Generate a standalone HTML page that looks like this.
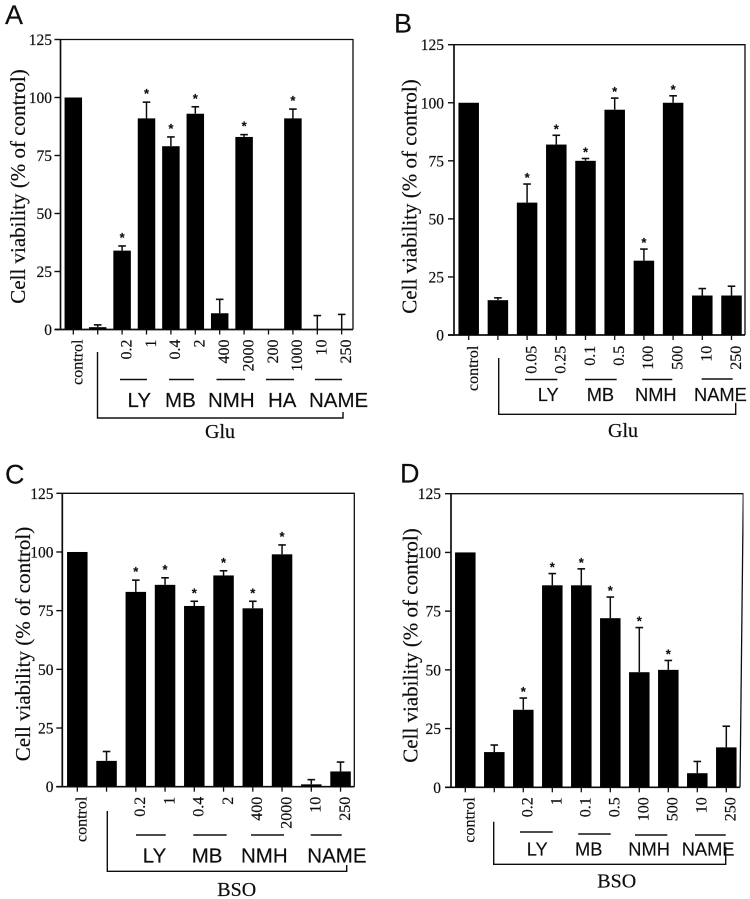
<!DOCTYPE html>
<html>
<head>
<meta charset="utf-8">
<title>Cell viability panels</title>
<style>
html,body{margin:0;padding:0;background:#fff;}
svg{display:block;}
.serif{font-family:"Liberation Serif",serif;fill:#111;stroke:#111;stroke-width:.2px;}
.sans{font-family:"Liberation Sans",sans-serif;fill:#111;stroke:#111;stroke-width:.15px;}
</style>
</head>
<body>
<svg id="fig" xmlns="http://www.w3.org/2000/svg" width="750" height="899" viewBox="0 0 750 899">
<defs><filter id="scan" x="0" y="0" width="100%" height="100%"><feGaussianBlur stdDeviation="0.3"/></filter></defs>
<rect x="0" y="0" width="750" height="899" fill="#fff"/>
</svg>
<script>
// ---- chart data ----
const yTicks = [0, 25, 50, 75, 100, 125];
const yTitle = 'Cell viability (% of control)';

const categoriesA = ['control', '', '0.2', '1', '0.4', '2', '400', '2000', '200', '1000', '10', '250'];
const valuesA = [100, 1, 34, 91, 79, 93, 7, 83, 0, 91, 0, 0];
const errorTopsA = [null, 2, 36, 98, 83, 96, 13, 84, null, 95, 6, 6.5];
const significantA = [0, 0, 1, 1, 1, 1, 0, 1, 0, 1, 0, 0];

const categoriesB = ['control', '', '0.05', '0.25', '0.1', '0.5', '100', '500', '10', '250'];
const valuesB = [100, 15, 57, 82, 75, 97, 32, 100, 17, 17];
const errorTopsB = [null, 16, 65, 86, 76, 102, 37, 103, 20, 21];
const significantB = [0, 0, 1, 1, 1, 1, 1, 1, 0, 0];

const categoriesC = ['control', '', '0.2', '1', '0.4', '2', '400', '2000', '10', '250'];
const valuesC = [100, 11, 83, 86, 77, 90, 76, 99, 1, 6.5];
const errorTopsC = [null, 15, 88, 89, 79, 92, 79, 103, 3, 10.5];
const significantC = [0, 0, 1, 1, 1, 1, 1, 1, 0, 0];

const categoriesD = ['control', '', '0.2', '1', '0.1', '0.5', '100', '500', '10', '250'];
const valuesD = [100, 15, 33, 86, 86, 72, 49, 50, 6, 17];
const errorTopsD = [null, 18, 38, 91, 93, 81, 68, 54, 11, 26];
const significantD = [0, 0, 1, 1, 1, 1, 1, 1, 0, 0];

// ---- drawing ----
const SVG_NS = 'http://www.w3.org/2000/svg';
const fig = document.getElementById('fig');

function mk(tag, attrs, parent) {
  const el = document.createElementNS(SVG_NS, tag);
  for (const k in attrs) el.setAttribute(k, attrs[k]);
  (parent || fig).appendChild(el);
  return el;
}

function drawLine(g, x1, y1, x2, y2, w) {
  return mk('line', {x1, y1, x2, y2, stroke: '#111', 'stroke-width': w}, g);
}

function drawText(g, cls, size, x, y, str, anchor) {
  const t = mk('text', {class: cls, 'font-size': size, x, y, 'text-anchor': anchor || 'start'}, g);
  t.textContent = str;
  return t;
}

function drawPanel(p) {
  const g = mk('g', {filter: 'url(#scan)'});
  
  

  const yScale = v => p.bottom - (v / 125) * (p.bottom - p.top);
  const xScale = i => p.x0 + i * p.step;

  const letter = drawText(g, 'sans', 27, p.letterX, p.letterY, p.id);
  
  

  const frame = mk('path', {
    d: 'M' + p.left + ' ' + p.top + ' H' + p.right + ' L' + p.rightBottom + ' ' + p.bottom,
    fill: 'none', stroke: '#111', 'stroke-width': 1.3
  }, g);
  
  

  const yAxis = drawLine(g, p.left, p.top, p.left, p.bottom, 1.7);
  
  

  const xAxis = drawLine(g, p.left - 6, p.bottom, p.rightBottom, p.bottom, 1.7);
  
  

  yTicks.forEach(v => {
    const y = yScale(v);
    const tick = drawLine(g, p.left - 6, y, p.left, y, 1.4);
    
    
    const lab = drawText(g, 'serif', 15.5, p.tickEnd, y + 5.5, String(v), 'end');
    
    
  });

  const title = drawText(g, 'serif', 21, 0, 0, yTitle, 'middle');
  title.setAttribute('transform', 'translate(' + p.titleX + ' ' + p.titleY + ') rotate(-90)');
  
  

  p.values.forEach((v, i) => {
    const cx = xScale(i);
    const bar = mk('rect', {
      x: cx - p.barW / 2, y: yScale(v), width: p.barW,
      height: p.bottom - yScale(v), fill: '#060606'
    }, g);
    
    

    const xTick = drawLine(g, cx, p.bottom, cx, p.bottom + 5, 1.3);
    
    

    const top = p.errorTops[i];
    if (top !== null) {
      const stem = drawLine(g, cx, yScale(v), cx, yScale(top), 1.5);
      
      
      const cap = drawLine(g, cx - 3.8, yScale(top), cx + 3.8, yScale(top), 1.6);
      
      
    }

    if (p.significant[i]) {
      const star = drawText(g, 'sans', 13, cx, yScale(top) - p.starGap, '*', 'middle');
      star.setAttribute('font-weight', 'bold');
      
      
    }

    if (p.categories[i]) {
      const lab = drawText(g, 'serif', 16, 0, 0, p.categories[i], 'end');
      lab.setAttribute('transform', 'translate(' + (cx + 9.3) + ' ' + p.labelTop + ') rotate(-90)');
      
      
    }
  });

  p.groups.forEach(gr => {
    const rule = drawLine(g, gr.x1, gr.ruleY, gr.x2, gr.ruleY, 1.4);
    
    
    const lab = drawText(g, 'sans', p.groupSize, gr.tx, p.groupBase, gr.name);
    
    
  });

  const b = p.bracket;
  const br = mk('path', {
    d: 'M' + b.x1 + ' ' + b.y1 + ' V' + b.y2 + ' H' + b.x2 + ' V' + b.y3,
    fill: 'none', stroke: '#111', 'stroke-width': 1.4
  }, g);
  
  

  const tl = drawText(g, 'serif', 20, p.treatX, p.treatY, p.treatment, 'middle');
  
  
}

drawPanel({
  id: 'A', categories: categoriesA, values: valuesA, errorTops: errorTopsA, significant: significantA,
  left: 60.5, right: 353, rightBottom: 353, top: 39.5, bottom: 329.5,
  x0: 73.3, step: 24.4, barW: 17.5, labelTop: 339.5, tickEnd: 52, starGap: 4,
  titleX: 25, titleY: 186.5, letterX: 5, letterY: 24,
  groupBase: 407, groupSize: 20.5,
  groups: [
    {name: 'LY', x1: 120, x2: 147, ruleY: 379.5, tx: 127.5},
    {name: 'MB', x1: 169, x2: 194, ruleY: 379.5, tx: 165},
    {name: 'NMH', x1: 216.5, x2: 245, ruleY: 379.5, tx: 208},
    {name: 'HA', x1: 266, x2: 294, ruleY: 379.5, tx: 268},
    {name: 'NAME', x1: 315, x2: 342, ruleY: 379.5, tx: 309}
  ],
  bracket: {x1: 97.5, y1: 352, y2: 418, x2: 343, y3: 412},
  treatment: 'Glu', treatX: 220, treatY: 438
});

drawPanel({
  id: 'B', categories: categoriesB, values: valuesB, errorTops: errorTopsB, significant: significantB,
  left: 454, right: 745, rightBottom: 745, top: 44.7, bottom: 335,
  x0: 468.7, step: 29.2, barW: 20.5, labelTop: 345.7, tickEnd: 444, starGap: 2,
  titleX: 416.7, titleY: 196.5, letterX: 394, letterY: 32.7,
  groupBase: 401, groupSize: 18.3,
  groups: [
    {name: 'LY', x1: 525, x2: 557.3, ruleY: 379.5, tx: 537.7},
    {name: 'MB', x1: 585, x2: 616.7, ruleY: 379.5, tx: 586.7},
    {name: 'NMH', x1: 642.3, x2: 672.3, ruleY: 379.5, tx: 635},
    {name: 'NAME', x1: 701.7, x2: 732.7, ruleY: 379, tx: 694}
  ],
  bracket: {x1: 498.7, y1: 358, y2: 414.3, x2: 735.7, y3: 402.7},
  treatment: 'Glu', treatX: 623, treatY: 437
});

drawPanel({
  id: 'C', categories: categoriesC, values: valuesC, errorTops: errorTopsC, significant: significantC,
  left: 62.3, right: 354.3, rightBottom: 354.3, top: 493.3, bottom: 786.7,
  x0: 77.3, step: 29.25, barW: 20.5, labelTop: 796.7, tickEnd: 53.5, starGap: 4,
  titleX: 30, titleY: 644, letterX: 5, letterY: 483.3,
  groupBase: 862.7, groupSize: 20.5,
  groups: [
    {name: 'LY', x1: 136, x2: 165.7, ruleY: 835, tx: 142.7},
    {name: 'MB', x1: 193.3, x2: 226.7, ruleY: 835, tx: 191.7},
    {name: 'NMH', x1: 251, x2: 284, ruleY: 835, tx: 241},
    {name: 'NAME', x1: 310.7, x2: 341.7, ruleY: 835, tx: 307.3}
  ],
  bracket: {x1: 107.3, y1: 811, y2: 871.3, x2: 346.7, y3: 865},
  treatment: 'BSO', treatX: 236.7, treatY: 896
});

drawPanel({
  id: 'D', categories: categoriesD, values: valuesD, errorTops: errorTopsD, significant: significantD,
  left: 451, right: 743.3, rightBottom: 740, top: 493.7, bottom: 787.3,
  x0: 465.3, step: 29, barW: 20.5, labelTop: 797.3, tickEnd: 441, starGap: 2,
  titleX: 417.7, titleY: 645.5, letterX: 400, letterY: 482.3,
  groupBase: 855.7, groupSize: 18.3,
  groups: [
    {name: 'LY', x1: 520, x2: 552.7, ruleY: 832, tx: 526.7},
    {name: 'MB', x1: 578.3, x2: 610.7, ruleY: 834, tx: 575},
    {name: 'NMH', x1: 635, x2: 667.3, ruleY: 835, tx: 628.3},
    {name: 'NAME', x1: 695, x2: 725.7, ruleY: 835, tx: 681.7}
  ],
  bracket: {x1: 493.7, y1: 821.7, y2: 864.3, x2: 725.7, y3: 846.7},
  treatment: 'BSO', treatX: 616.7, treatY: 887.3
});
</script>
</body>
</html>
